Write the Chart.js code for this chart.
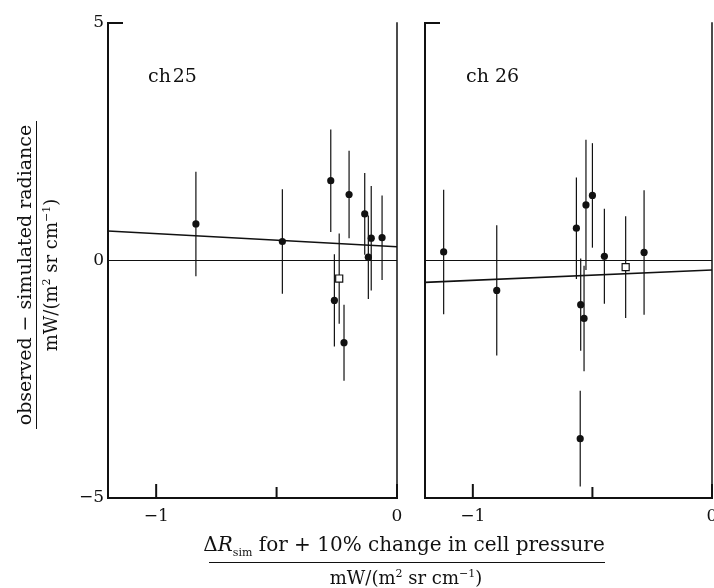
<!DOCTYPE html>
<html><head><meta charset="utf-8">
<script src="https://cdn.jsdelivr.net/npm/chart.js@4.4.0/dist/chart.umd.min.js"></script>
<style>
html,body{margin:0;padding:0;background:#fff;}
body{width:714px;height:588px;position:relative;overflow:hidden;font-family:'DejaVu Serif',serif;color:#111;}
.c{position:absolute;top:0;}
#w1{left:0;width:420px;height:588px;}
#w2{left:400px;width:314px;height:588px;}
.t{position:absolute;white-space:nowrap;line-height:1;}
</style></head><body>
<div id="w1" class="c"><canvas id="c1" width="420" height="588"></canvas></div>
<div id="w2" class="c"><canvas id="c2" width="314" height="588"></canvas></div>

<div id="yt" style="position:absolute;left:-133px;top:251px;width:340px;height:48px;transform:rotate(-90deg);transform-origin:50% 50%;">
  <div class="t" style="left:0;width:340px;text-align:center;top:2px;font-size:19px;">observed − simulated radiance</div>
  <div style="position:absolute;left:16px;width:308px;top:23px;height:0;border-top:1.5px solid #111;"></div>
  <div class="t" style="left:0;width:340px;text-align:center;top:28px;font-size:18px;">mW/(m<sup style="font-size:11px;">2</sup> sr cm<sup style="font-size:11px;">−1</sup>)</div>
</div>

<div class="t" style="left:154px;width:500px;text-align:center;top:534px;font-size:20px;">Δ<i>R</i><sub style="font-size:11px;">sim</sub> for + 10% change in cell pressure</div>
<div style="position:absolute;left:209px;width:396px;top:562px;height:0;border-top:1.5px solid #111;"></div>
<div class="t" style="left:156px;width:500px;text-align:center;top:568px;font-size:18px;">mW/(m<sup style="font-size:11px;">2</sup> sr cm<sup style="font-size:11px;">−1</sup>)</div>

<script>
// ---- data ----
const xRange = [-1.2, 0];
const yRange = [-5, 5];
const xTickValues = [-1, -0.5, 0];
const xTickLabels = ['\u22121', '', '0'];
const yTickValues = [-5, 0, 5];
const yTickLabels = ['\u22125', '0', '5'];

// channel 25
const ch25X   = [-0.835, -0.476, -0.275, -0.199, -0.134, -0.119, -0.107, -0.062, -0.260, -0.220];
const ch25Y   = [0.77, 0.40, 1.68, 1.39, 0.98, 0.07, 0.47, 0.48, -0.84, -1.73];
const ch25Err = [1.10, 1.10, 1.08, 0.92, 0.86, 0.88, 1.10, 0.89, 0.97, 0.80];
const ch25SqX = [-0.240];
const ch25SqY = [-0.38];
const ch25SqErr = [0.95];
const fitX = [-1.2, 0];
const ch25Fit = [0.62, 0.29];

// channel 26
const ch26X   = [-1.122, -0.900, -0.567, -0.527, -0.500, -0.450, -0.284, -0.549, -0.535, -0.551];
const ch26Y   = [0.18, -0.63, 0.68, 1.17, 1.37, 0.09, 0.17, -0.93, -1.22, -3.75];
const ch26Err = [1.31, 1.37, 1.07, 1.37, 1.10, 1.00, 1.31, 0.97, 1.11, 1.01];
const ch26SqX = [-0.361];
const ch26SqY = [-0.14];
const ch26SqErr = [1.07];
const ch26Fit = [-0.46, -0.20];

const FONT = "'DejaVu Serif', serif";
const INK = '#111';

function pts(xs, ys){ return xs.map((x,i)=>({x:x, y:ys[i]})); }

const framePlugin = {
  id: 'frame',
  beforeDatasetsDraw(chart, args, opts){
    const ctx = chart.ctx, a = chart.chartArea;
    const xs = chart.scales.x, ys = chart.scales.y;
    ctx.save();
    ctx.strokeStyle = INK;
    ctx.lineWidth = 1;
    const y0 = ys.getPixelForValue(0);
    ctx.beginPath(); ctx.moveTo(a.left, y0); ctx.lineTo(a.right, y0); ctx.stroke();
    ctx.lineWidth = 1.2;
    opts.bars.forEach(b => {
      b.x.forEach((x,i)=>{
        const px = xs.getPixelForValue(x);
        ctx.beginPath();
        ctx.moveTo(px, ys.getPixelForValue(b.y[i]+b.e[i]));
        ctx.lineTo(px, ys.getPixelForValue(b.y[i]-b.e[i]));
        ctx.stroke();
      });
    });
    ctx.restore();
  },
  afterDraw(chart, args, opts){
    const ctx = chart.ctx, a = chart.chartArea;
    const xs = chart.scales.x;
    ctx.save();
    ctx.strokeStyle = INK;
    ctx.lineCap = 'square';
    ctx.lineWidth = 2;
    ctx.beginPath();
    ctx.moveTo(a.left + 14, a.top); ctx.lineTo(a.left, a.top); ctx.lineTo(a.left, a.bottom); ctx.lineTo(a.right, a.bottom);
    ctx.stroke();
    ctx.lineWidth = 1.5;
    ctx.beginPath(); ctx.moveTo(a.right, a.top); ctx.lineTo(a.right, a.bottom); ctx.stroke();
    ctx.lineWidth = 2;
    xTickValues.forEach((v,i)=>{
      const px = xs.getPixelForValue(v);
      const len = (xTickLabels[i] === '') ? 10 : 13;
      ctx.beginPath(); ctx.moveTo(px, a.bottom); ctx.lineTo(px, a.bottom - len); ctx.stroke();
    });
    ctx.fillStyle = INK;
    ctx.font = "19px " + FONT;
    ctx.textBaseline = 'alphabetic';
    ctx.fillText(opts.label, a.left + opts.labelDx, 82);
    ctx.restore();
  }
};

function makeChart(id, cfg){
  const showY = cfg.showY;
  return new Chart(document.getElementById(id), {
    type: 'scatter',
    data: {
      datasets: [
        { data: pts(cfg.px, cfg.py), pointRadius: 3.6, pointHoverRadius: 3.6, backgroundColor: INK, borderWidth: 0, order: 2 },
        { data: pts(cfg.sx, cfg.sy), pointStyle: 'rect', pointRadius: 5, pointHoverRadius: 5, backgroundColor: '#fff', borderColor: INK, borderWidth: 1.2, order: 1 },
        { type: 'line', data: pts(fitX, cfg.fit), borderColor: INK, borderWidth: 1.6, pointRadius: 0, fill: false, order: 3 }
      ]
    },
    options: {
      responsive: false,
      animation: false,
      events: [],
      layout: { autoPadding: false, padding: { left: showY ? 0 : 25, right: cfg.padRight, top: 23, bottom: 0 } },
      plugins: {
        legend: { display: false }, tooltip: { enabled: false },
        frame: { bars: [ {x: cfg.px, y: cfg.py, e: cfg.pe}, {x: cfg.sx, y: cfg.sy, e: cfg.se} ], label: cfg.label, labelDx: cfg.labelDx }
      },
      scales: {
        x: {
          type: 'linear', min: xRange[0], max: xRange[1],
          grid: { display: false, drawTicks: false }, border: { display: false },
          afterBuildTicks: s => { s.ticks = xTickValues.map(v => ({ value: v })); },
          afterFit: s => { s.height = 90; s.paddingLeft = 0; s.paddingRight = 0; },
          ticks: { padding: 8, maxRotation: 0, autoSkip: false, color: INK, font: { family: FONT, size: 17 },
                   callback: (v) => xTickLabels[xTickValues.indexOf(v)] ?? '' }
        },
        y: {
          type: 'linear', min: yRange[0], max: yRange[1], display: showY,
          grid: { display: false, drawTicks: false }, border: { display: false },
          afterBuildTicks: s => { s.ticks = yTickValues.map(v => ({ value: v })); },
          afterFit: s => { s.width = showY ? 108 : 0; s.paddingTop = 0; s.paddingBottom = 0; },
          ticks: { padding: 4, autoSkip: false, color: INK, font: { family: FONT, size: 17 },
                   callback: (v) => yTickLabels[yTickValues.indexOf(v)] ?? '' }
        }
      }
    },
    plugins: [framePlugin]
  });
}

makeChart('c1', { showY: true, padRight: 23, px: ch25X, py: ch25Y, pe: ch25Err, sx: ch25SqX, sy: ch25SqY, se: ch25SqErr, fit: ch25Fit, label: 'ch\u200a25', labelDx: 40 });
makeChart('c2', { showY: false, padRight: 2, px: ch26X, py: ch26Y, pe: ch26Err, sx: ch26SqX, sy: ch26SqY, se: ch26SqErr, fit: ch26Fit, label: 'ch 26', labelDx: 41 });
</script>
</body></html>
